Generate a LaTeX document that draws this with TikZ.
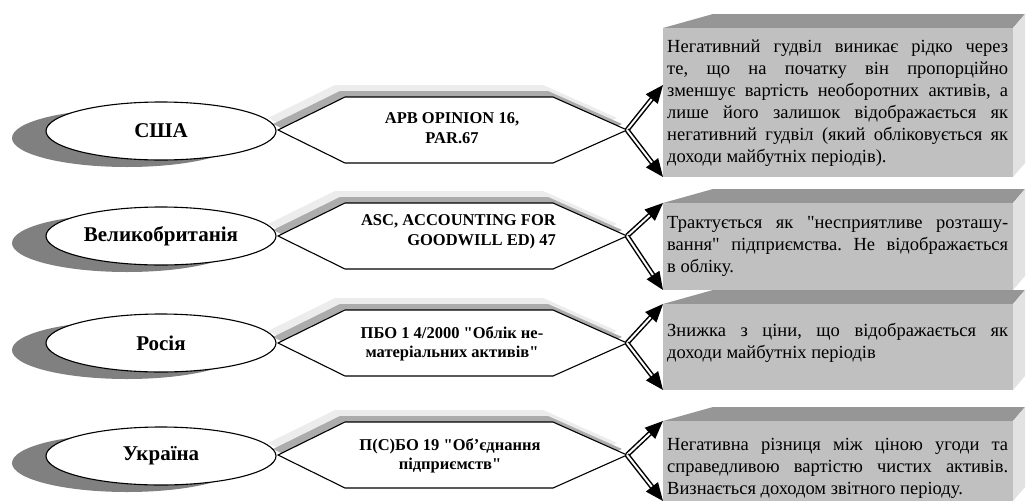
\documentclass[tikz,border=0pt]{standalone}
\usepackage{fontspec}
\setmainfont{Liberation Serif}[Ligatures=TeXOff]
\usetikzlibrary{arrows.meta,calc,shapes.geometric}
\definecolor{frontgray}{RGB}{192,192,192}
\definecolor{topgray}{RGB}{150,150,150}
\definecolor{sidegray}{RGB}{226,226,226}
\definecolor{shadowgray}{RGB}{128,128,128}
\definecolor{hexdark}{RGB}{172,172,172}
\definecolor{hexlight}{RGB}{236,236,236}
\tikzset{
  hexline/.style={draw=black, line width=1.1pt, fill=white, line join=miter},
  elln/.style={ellipse, draw=black, line width=1.1pt, fill=white, minimum width=230pt, minimum height=58pt, inner sep=0pt, font=\bfseries\fontsize{21}{25}\selectfont},
  ellshadow/.style={fill=shadowgray},
  hextext/.style={align=center, inner sep=0pt, font=\bfseries\fontsize{16.5}{19.5}\selectfont},
  frontface/.style={rectangle, fill=frontgray, minimum width=350pt, inner sep=0pt, outer sep=0pt, anchor=north west},
  boxtext/.style={anchor=north west, text width=341pt, align=justify, inner sep=0pt, font=\fontsize{18.5}{22}\selectfont},
  arr/.style={line width=1.5pt, double=white, double distance=2pt, -{Triangle[length=18pt,width=15pt]}},
}
\newcommand\hexat[2]{%
  \begin{scope}[shift={(-10,#2-12)}]
    \fill[hexlight] (278,0)--(345,-33)--(553,-33)--(627,0)--(553,33)--(345,33)--cycle;
  \end{scope}
  \begin{scope}[shift={(-5,#2-6)}]
    \fill[hexdark] (278,0)--(345,-33)--(553,-33)--(627,0)--(553,33)--(345,33)--cycle;
  \end{scope}
  \begin{scope}[shift={(0,#2)}]
    \draw[hexline] (278,0)--(345,-33)--(553,-33)--(627,0)--(553,33)--(345,33)--cycle;
  \end{scope}
  \coordinate (f#1) at (627,#2);
}
\newcommand\ellat[3]{%
  \fill[ellshadow] (127,#2+7) ellipse [x radius=115, y radius=29];
  \node[elln] (e#1) at (161,#2) {#3};
}
% #1 name, #2 top, #3 height, #4 text offset, #5 text
\newcommand\boxat[5]{%
  \fill[topgray] (663,#2) -- (1013,#2) -- (1025,#2-14) -- (713,#2-14) -- cycle;
  \fill[sidegray] (1013,#2) -- (1025,#2-14) -- (1025,#2+#3-14) -- (1013,#2+#3) -- cycle;
  \node[frontface, minimum height=#3pt] (b#1) at (663,#2) {};
  \node[boxtext] (t#1) at (667,#2+#4) {#5};
}
\begin{document}
\hyphenpenalty=10000
\frenchspacing
\begin{tikzpicture}[x=1pt,y=-1pt]
\useasboundingbox (0,0) rectangle (1027,501);
\fill[white] (0,0) rectangle (1027,501);

% boxes
\boxat{1}{28}{149}{12}{Негативний гудвіл виникає рідко через\linebreak те, що на початку він пропорційно\linebreak зменшує вартість необоротних активів, а\linebreak лише його залишок відображається як\linebreak негативний гудвіл (який обліковується як\linebreak доходи майбутніх періодів).}
\boxat{2}{203}{87}{13}{Трактується як "несприятливе розташу-\linebreak вання" підприємства. Не відображається\linebreak в обліку.}
\boxat{3}{304}{86}{19}{Знижка з ціни, що відображається як\linebreak доходи майбутніх періодів}
\boxat{4}{421}{80}{17}{Негативна різниця між ціною угоди та\linebreak справедливою вартістю чистих активів.\linebreak Визнається доходом звітного періоду.}

% hexagons
\hexat{1}{130}
\hexat{2}{236}
\hexat{3}{343}
\hexat{4}{455}
\node[hextext] (h1) at (452,128) {APB OPINION 16,\\PAR.67};
\node[hextext, align=right, anchor=east] (h2) at (556,232) {ASC, ACCOUNTING FOR\\GOODWILL ED) 47};
\node[hextext] (h3) at (452,344) {ПБО 1 4/2000 "Облік не-\\матеріальних активів"};
\node[hextext] (h4) at (450,456) {П(С)БО 19 "Об’єднання\\підприємств"};

% ellipses
\ellat{1}{131}{США}
\ellat{2}{236}{Великобританія}
\ellat{3}{343}{Росія}
\ellat{4}{456}{Україна}

% arrows
\coordinate (u1) at (663,85);
\draw[arr] (f1) -- (u1);
\draw[arr] (f1) -- (b1.south west);
\draw[arr] (f2) -- (b2.north west);
\draw[arr] (f2) -- (b2.south west);
\draw[arr] (f3) -- (b3.north west);
\draw[arr] (f3) -- (b3.south west);
\draw[arr] (f4) -- (b4.north west);
\draw[arr] (f4) -- (b4.south west);
\end{tikzpicture}
\end{document}
